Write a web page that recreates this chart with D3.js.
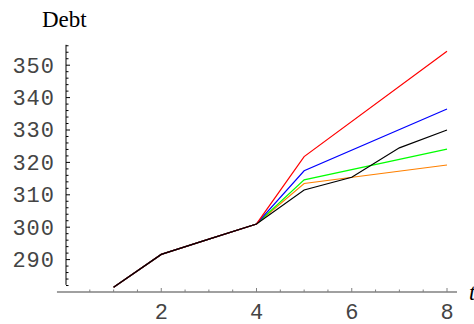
<!DOCTYPE html>
<html>
<head>
<meta charset="utf-8">
<script src="https://cdn.jsdelivr.net/npm/d3@7"></script>
<style>
  body { margin: 0; background: #fff; }
  svg { display: block; }
</style>
</head>
<body>
<div id="chart"></div>
<script>
// history (black) and the four scenario paths that branch off after t = 4
const years = [1, 2, 3, 4, 5, 6, 7, 8];
const actualDebt = [281.5, 291.6, 296.3, 301.0, 311.5, 315.4, 324.5, 330.0];
const scenarioYears = [1, 2, 3, 4, 5, 8];
const redDebt = [281.5, 291.6, 296.3, 301.0, 321.8, 354.3];
const blueDebt = [281.5, 291.6, 296.3, 301.0, 317.4, 336.5];
const greenDebt = [281.5, 291.6, 296.3, 301.0, 314.6, 324.1];
const orangeDebt = [281.5, 291.6, 296.3, 301.0, 313.5, 319.2];
const xTickLabels = [2, 4, 6, 8];
const yTickLabels = [290, 300, 310, 320, 330, 340, 350];

const size = { width: 474, height: 324 };

const x = d3.scaleLinear().domain([0, 8]).range([66, 447]);
const y = d3.scaleLinear().domain([280, 350]).range([292, 65.2]);

const svg = d3.select("#chart")
  .append("svg")
  .attr("width", size.width)
  .attr("height", size.height);

const axisColor = "#808080";
const labelFont = "'Liberation Mono', 'DejaVu Sans Mono', monospace";

// axes lines
svg.append("line")
  .attr("x1", x(-0.19)).attr("x2", x(8.21))
  .attr("y1", y(280)).attr("y2", y(280))
  .attr("stroke", axisColor).attr("stroke-width", 1.6);

svg.append("line")
  .attr("x1", x(0)).attr("x2", x(0))
  .attr("y1", y(282.2)).attr("y2", y(356.3))
  .attr("stroke", "#000").attr("stroke-width", 1);

// x ticks every 0.5, going up into the plot
const xMinor = d3.range(0.5, 8.01, 0.5);
svg.append("g").selectAll("line")
  .data(xMinor)
  .join("line")
  .attr("x1", d => x(d)).attr("x2", d => x(d))
  .attr("y1", y(280))
  .attr("y2", d => y(280) - (d % 2 === 0 ? 4 : 2.5))
  .attr("stroke", axisColor).attr("stroke-width", 1);

svg.append("g").selectAll("text")
  .data(xTickLabels)
  .join("text")
  .attr("x", d => x(d))
  .attr("y", 318.5)
  .attr("text-anchor", "middle")
  .attr("font-family", labelFont)
  .attr("font-size", 22)
  .attr("fill", "#444")
  .text(d => d);

// y ticks every 2, going right into the plot
const yMinor = d3.range(282, 356.1, 2);
svg.append("g").selectAll("line")
  .data(yMinor)
  .join("line")
  .attr("x1", x(0)).attr("x2", d => x(0) + (d % 10 === 0 ? 4 : 2.5))
  .attr("y1", d => y(d)).attr("y2", d => y(d))
  .attr("stroke", "#000").attr("stroke-width", 1);

svg.append("g").selectAll("text")
  .data(yTickLabels)
  .join("text")
  .attr("x", 55)
  .attr("y", d => y(d))
  .attr("dy", "0.34em")
  .attr("text-anchor", "end")
  .attr("font-family", labelFont)
  .attr("font-size", 22)
  .attr("letter-spacing", 1)
  .attr("fill", "#444")
  .text(d => d);

// axis titles
svg.append("text")
  .attr("x", 42).attr("y", 27)
  .attr("font-family", "'Liberation Serif', 'DejaVu Serif', serif")
  .attr("font-size", 23)
  .attr("fill", "#000")
  .text("Debt");

svg.append("text")
  .attr("x", 469).attr("y", 300)
  .attr("font-family", "'Liberation Serif', 'DejaVu Serif', serif")
  .attr("font-style", "italic")
  .attr("font-size", 23)
  .attr("fill", "#000")
  .text("t");

// series
const line = d3.line()
  .x(d => x(d[0]))
  .y(d => y(d[1]));

const series = [
  { color: "#ff8000", years: scenarioYears, values: orangeDebt },
  { color: "#00ff00", years: scenarioYears, values: greenDebt },
  { color: "#0000ff", years: scenarioYears, values: blueDebt },
  { color: "#ff0000", years: scenarioYears, values: redDebt },
  { color: "#000000", years: years, values: actualDebt }
];

svg.append("g").selectAll("path")
  .data(series)
  .join("path")
  .attr("fill", "none")
  .attr("stroke", d => d.color)
  .attr("stroke-width", 1.2)
  .attr("d", d => line(d.years.map((t, i) => [t, d.values[i]])));
</script>
</body>
</html>
